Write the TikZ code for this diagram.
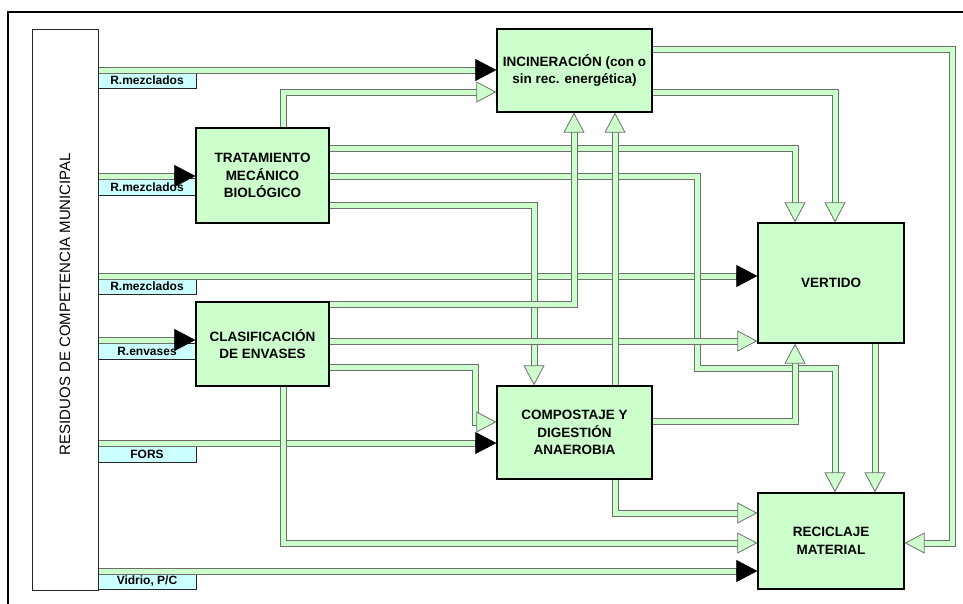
\documentclass[tikz,border=0pt]{standalone}
\usepackage{fontspec}
\setmainfont{Liberation Sans}
\usetikzlibrary{arrows.meta}
\definecolor{boxgreen}{HTML}{CCFFCC}
\definecolor{labcyan}{HTML}{CCFFFF}
\definecolor{flowgray}{HTML}{6E6E6E}
\begin{document}
\begin{tikzpicture}[x=1pt,y=-1pt,
  box/.style={draw=black, line width=1.3pt, fill=boxgreen, align=center, inner sep=0pt,
    font=\bfseries\fontsize{13.5}{17.5}\selectfont},
  lab/.style={draw=black!85, line width=0.9pt, fill=labcyan, minimum width=98pt,
    minimum height=16.5pt, inner sep=0pt, font=\bfseries\fontsize{12}{14}\selectfont},
  flow/.style={draw=boxgreen, line width=5pt, line join=miter,
    preaction={draw=flowgray, line width=7pt, -, shorten >=12pt}},
  fg/.style={flow, -{Triangle[length=20pt, width=21pt, line width=0.8pt, fill=boxgreen, color=flowgray]}},
  fb/.style={flow, -{Triangle[length=21pt, width=22pt, line width=0.5pt, fill=black, color=black]}},
]
\useasboundingbox (0,0) rectangle (963,603);
\draw[line width=2.4pt] (8,610) -- (8,12) -- (970,12);

% source box
\node[draw=black!85, line width=1pt, fill=white, minimum width=66pt, minimum height=561pt, inner sep=0pt] (src) at (65,309.5) {};
\node[rotate=90, font=\fontsize{15}{17}\selectfont] (srctext) at (65,304) {RESIDUOS DE COMPETENCIA MUNICIPAL};

% labels
\node[lab] (lab1) at (147,80.5) {R.mezclados};
\node[lab] (lab2) at (147,187) {R.mezclados};
\node[lab] (lab3) at (147,286.5) {R.mezclados};
\node[lab] (lab4) at (147,351.5) {R.envases};
\node[lab] (lab5) at (147,454) {FORS};
\node[lab] (lab6) at (147,581.5) {Vidrio, P/C};

% process boxes
\node[box, minimum width=155pt, minimum height=83pt] (inc) at (574.5,70.5) {INCINERACIÓN (con o\\sin rec. energética)};
\node[box, minimum width=133pt, minimum height=95pt] (tmb) at (262.5,175.5) {TRATAMIENTO\\MECÁNICO\\BIOLÓGICO};
\node[box, minimum width=133pt, minimum height=84pt] (clas) at (262.5,344) {CLASIFICACIÓN\\DE ENVASES};
\node[box, minimum width=155pt, minimum height=93pt] (comp) at (574.5,432.5) {COMPOSTAJE Y\\DIGESTIÓN\\ANAEROBIA};
\node[box, minimum width=146pt, minimum height=120pt] (vert) at (831,283) {VERTIDO};
\node[box, minimum width=146pt, minimum height=96pt] (rec) at (831,541) {RECICLAJE\\MATERIAL};

% flows from the source
\draw[fb] (src.east |- 0,70) -- (inc.west |- 0,70);
\draw[fb] (src.east |- 0,176) -- (tmb.west |- 0,176);
\draw[fb] (src.east |- 0,276) -- (vert.west |- 0,276);
\draw[fb] (src.east |- 0,340) -- (clas.west |- 0,340);
\draw[fb] (src.east |- 0,443) -- (comp.west |- 0,443);
\draw[fb] (src.east |- 0,571) -- (rec.west |- 0,571);

% TMB outputs
\draw[fg] (tmb.north -| 283,0) |- (inc.west |- 0,92);
\draw[fg] (tmb.east |- 0,148) -| (vert.north -| 795,0);
\draw[fg] (tmb.east |- 0,176) -| (697,368) -| (rec.north -| 835,0);
\draw[fg] (tmb.east |- 0,205) -| (comp.north -| 534,0);

% incineration outputs
\draw[fg] (inc.east |- 0,49) -| (952,543) -- (rec.east |- 0,543);
\draw[fg] (inc.east |- 0,92) -| (vert.north -| 835,0);

% classification outputs
\draw[fg] (clas.east |- 0,304) -| (inc.south -| 574,0);
\draw[fg] (clas.east |- 0,341) -- (vert.west |- 0,341);
\draw[fg] (clas.east |- 0,367) -| (475,422) -- (comp.west |- 0,422);
\draw[fg] (clas.south -| 283,0) |- (rec.west |- 0,543);

% composting outputs
\draw[fg] (comp.north -| 615,0) -- (inc.south -| 615,0);
\draw[fg] (comp.east |- 0,421) -| (vert.south -| 795,0);
\draw[fg] (comp.south -| 615,0) |- (rec.west |- 0,513);

% landfill output
\draw[fg] (vert.south -| 875,0) -- (rec.north -| 875,0);
\end{tikzpicture}
\end{document}
